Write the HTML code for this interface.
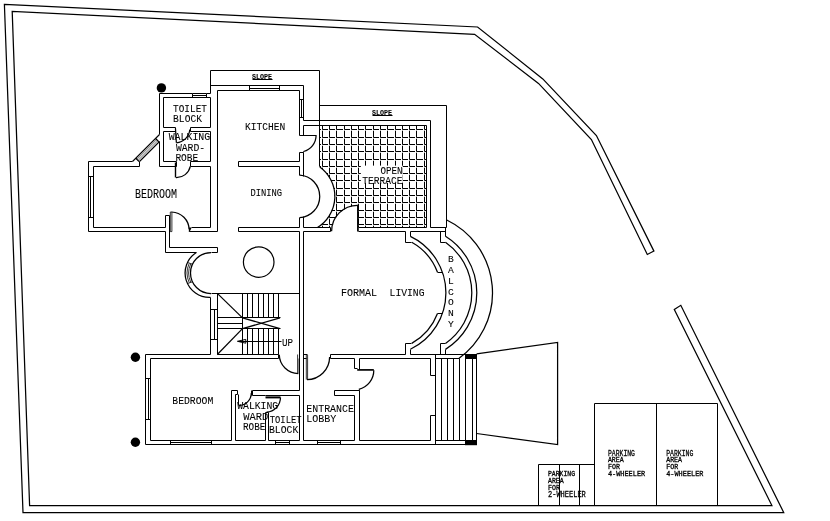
<!DOCTYPE html>
<html lang="en"><head><meta charset="utf-8"><title>First floor plan</title>
<style>
html,body{margin:0;padding:0;background:#fff;}
body{width:830px;height:521px;overflow:hidden;}
svg{display:block;will-change:transform;filter:grayscale(1);}
svg path,svg circle{fill:none;stroke:#000;stroke-width:1;}
#dots circle{fill:#000;stroke:none;}
svg path.d{stroke-width:1.25;}
#lower circle{stroke-width:1.2;}
svg text{font-family:"Liberation Mono",monospace;fill:#000;stroke:#000;stroke-width:0.08;}
.ts{font-weight:bold;}
.tp{stroke-width:0.3 !important;}
</style></head>
<body>
<svg width="830" height="521" viewBox="0 0 830 521">
<rect x="0" y="0" width="830" height="521" fill="#fff" stroke="none"/>
<g id="boundary">
<path d="M4.4 4.4 L477.6 27 L542.8 78.9 L596.4 135.5 L653.9 251.1 L647.3 254.5 L591.4 139.5 L538.5 83.4 L474.6 34.3 L12.2 11.3 L29.6 505.5 L771.9 505.5 L674.3 309.5 L680.8 305.3 L783.7 512.5 L23 512.5 Z" class="d"/>
</g>
<g id="parking">
<path d="M594.5 505.5 L594.5 403.5 L717.5 403.5 L717.5 505.5"/>
<path d="M656.5 403.5 L656.5 505.5"/>
<path d="M538.5 505.5 L538.5 464.5 L594.5 464.5"/>
<path d="M559.5 464.5 L559.5 505.5"/>
<path d="M579.5 464.5 L579.5 505.5"/>
</g>
<g id="ramp">
<path d="M476.6 353.9 L557.6 342.5 L557.6 444.5 L476.6 433.5" class="d"/>
<path d="M435.5 358.5 L435.5 440.5"/>
<path d="M441.5 358.5 L441.5 440.5"/>
<path d="M447.5 358.5 L447.5 440.5"/>
<path d="M453.5 358.5 L453.5 440.5"/>
<path d="M459.5 358.5 L459.5 440.5"/>
<path d="M465.5 358.5 L465.5 440.5"/>
<path d="M472.5 358.5 L472.5 440.5"/>
<path d="M476.5 358.5 L476.5 440.5"/>
<path d="M435.5 354.5 L435.5 444.5"/>
<path d="M476.5 358.5 L476.5 440.5"/>
<path d="M435.5 440.5 L465.5 440.5"/>
<rect x="465" y="354" width="12" height="5" fill="#000" stroke="none"/>
<rect x="465" y="440" width="12" height="5.2" fill="#000" stroke="none"/>
</g>
<g id="balcony">
<path class="d" d="M446.75 220.05 A80.8 80.8 0 0 1 459.08 358.3"/>
<path d="M445.5 227.5 L445.5 236.5"/>
<path class="d" d="M445.5 236.32 A66.7 66.7 0 0 1 445.5 349.38"/>
<path d="M445.5 349.5 L445.5 354.5"/>
<path d="M440.5 231.5 L440.5 242.5 L445.5 242.5"/>
<path class="d" d="M445.48 242.3 A61.7 61.7 0 0 1 445.48 343.4"/>
<path d="M445.5 343.5 L440.5 343.5 L440.5 354.5"/>
<path d="M410.5 231.5 L410.5 236.5"/>
<path class="d" d="M410.4 236.42 A62.6 62.6 0 0 1 410.4 349.28"/>
<path d="M410.5 349.5 L410.5 354.5"/>
<path d="M405.5 231.5 L405.5 242.5 L411.5 242.5"/>
<path class="d" d="M411.74 242.3 A58 58 0 0 1 437.5 272.2"/>
<path d="M437.5 272.5 L442.5 272.5"/>
<path d="M437.5 313.5 L442.5 313.5"/>
<path class="d" d="M437.5 313.5 A58 58 0 0 1 411.74 343.4"/>
<path d="M411.5 343.5 L405.5 343.5 L405.5 354.5"/>
</g>
<g id="terrace">
<path d="M210.5 93.5 L210.5 70.5 L319.5 70.5 L319.5 166.5"/>
<path d="M319.5 105.5 L446.5 105.5 L446.5 227.5 L430.5 227.5 L430.5 120.5 L303.5 120.5"/>
<path d="M303.5 125.5 L426.5 125.5"/>
<path d="M358.5 227.5 L426.5 227.5"/>
<path d="M358.5 231.5 L405.5 231.5"/>
<path d="M410.5 231.5 L445.5 231.5"/>
</g>
<defs><clipPath id="tc"><path d="M319.6 125.5 L426.5 125.5 L426.5 227.1 L358 227.1 L358 205.6 A25.9 25.9 0 0 0 332.5 227.1 L317.6 227.1 A36.4 36.4 0 0 0 319.6 166.9 Z"/></clipPath></defs>
<g id="tiles" clip-path="url(#tc)">
<path d="M314.5 116.7V122.5H321M322.5 116.7V122.5H328M329.5 116.7V122.5H335M336.5 116.7V122.5H343M344.5 116.7V122.5H350M351.5 116.7V122.5H357M358.5 116.7V122.5H364M365.5 116.7V122.5H372M373.5 116.7V122.5H379M380.5 116.7V122.5H386M387.5 116.7V122.5H394M395.5 116.7V122.5H401M402.5 116.7V122.5H408M409.5 116.7V122.5H415M416.5 116.7V122.5H423M424.5 116.7V122.5H430M314.5 123.7V129.5H321M322.5 123.7V129.5H328M329.5 123.7V129.5H335M336.5 123.7V129.5H343M344.5 123.7V129.5H350M351.5 123.7V129.5H357M358.5 123.7V129.5H364M365.5 123.7V129.5H372M373.5 123.7V129.5H379M380.5 123.7V129.5H386M387.5 123.7V129.5H394M395.5 123.7V129.5H401M402.5 123.7V129.5H408M409.5 123.7V129.5H415M416.5 123.7V129.5H423M424.5 123.7V129.5H430M314.5 130.7V137.5H321M322.5 130.7V137.5H328M329.5 130.7V137.5H335M336.5 130.7V137.5H343M344.5 130.7V137.5H350M351.5 130.7V137.5H357M358.5 130.7V137.5H364M365.5 130.7V137.5H372M373.5 130.7V137.5H379M380.5 130.7V137.5H386M387.5 130.7V137.5H394M395.5 130.7V137.5H401M402.5 130.7V137.5H408M409.5 130.7V137.5H415M416.5 130.7V137.5H423M424.5 130.7V137.5H430M314.5 138.7V144.5H321M322.5 138.7V144.5H328M329.5 138.7V144.5H335M336.5 138.7V144.5H343M344.5 138.7V144.5H350M351.5 138.7V144.5H357M358.5 138.7V144.5H364M365.5 138.7V144.5H372M373.5 138.7V144.5H379M380.5 138.7V144.5H386M387.5 138.7V144.5H394M395.5 138.7V144.5H401M402.5 138.7V144.5H408M409.5 138.7V144.5H415M416.5 138.7V144.5H423M424.5 138.7V144.5H430M314.5 145.7V151.5H321M322.5 145.7V151.5H328M329.5 145.7V151.5H335M336.5 145.7V151.5H343M344.5 145.7V151.5H350M351.5 145.7V151.5H357M358.5 145.7V151.5H364M365.5 145.7V151.5H372M373.5 145.7V151.5H379M380.5 145.7V151.5H386M387.5 145.7V151.5H394M395.5 145.7V151.5H401M402.5 145.7V151.5H408M409.5 145.7V151.5H415M416.5 145.7V151.5H423M424.5 145.7V151.5H430M314.5 152.7V159.5H321M322.5 152.7V159.5H328M329.5 152.7V159.5H335M336.5 152.7V159.5H343M344.5 152.7V159.5H350M351.5 152.7V159.5H357M358.5 152.7V159.5H364M365.5 152.7V159.5H372M373.5 152.7V159.5H379M380.5 152.7V159.5H386M387.5 152.7V159.5H394M395.5 152.7V159.5H401M402.5 152.7V159.5H408M409.5 152.7V159.5H415M416.5 152.7V159.5H423M424.5 152.7V159.5H430M314.5 160.7V166.5H321M322.5 160.7V166.5H328M329.5 160.7V166.5H335M336.5 160.7V166.5H343M344.5 160.7V166.5H350M351.5 160.7V166.5H357M358.5 160.7V166.5H364M365.5 160.7V166.5H372M373.5 160.7V166.5H379M380.5 160.7V166.5H386M387.5 160.7V166.5H394M395.5 160.7V166.5H401M402.5 160.7V166.5H408M409.5 160.7V166.5H415M416.5 160.7V166.5H423M424.5 160.7V166.5H430M314.5 167.7V173.5H321M322.5 167.7V173.5H328M329.5 167.7V173.5H335M336.5 167.7V173.5H343M344.5 167.7V173.5H350M351.5 167.7V173.5H357M358.5 167.7V173.5H364M365.5 167.7V173.5H372M373.5 167.7V173.5H379M380.5 167.7V173.5H386M387.5 167.7V173.5H394M395.5 167.7V173.5H401M402.5 167.7V173.5H408M409.5 167.7V173.5H415M416.5 167.7V173.5H423M424.5 167.7V173.5H430M314.5 174.7V180.5H321M322.5 174.7V180.5H328M329.5 174.7V180.5H335M336.5 174.7V180.5H343M344.5 174.7V180.5H350M351.5 174.7V180.5H357M358.5 174.7V180.5H364M365.5 174.7V180.5H372M373.5 174.7V180.5H379M380.5 174.7V180.5H386M387.5 174.7V180.5H394M395.5 174.7V180.5H401M402.5 174.7V180.5H408M409.5 174.7V180.5H415M416.5 174.7V180.5H423M424.5 174.7V180.5H430M314.5 181.7V188.5H321M322.5 181.7V188.5H328M329.5 181.7V188.5H335M336.5 181.7V188.5H343M344.5 181.7V188.5H350M351.5 181.7V188.5H357M358.5 181.7V188.5H364M365.5 181.7V188.5H372M373.5 181.7V188.5H379M380.5 181.7V188.5H386M387.5 181.7V188.5H394M395.5 181.7V188.5H401M402.5 181.7V188.5H408M409.5 181.7V188.5H415M416.5 181.7V188.5H423M424.5 181.7V188.5H430M314.5 189.7V195.5H321M322.5 189.7V195.5H328M329.5 189.7V195.5H335M336.5 189.7V195.5H343M344.5 189.7V195.5H350M351.5 189.7V195.5H357M358.5 189.7V195.5H364M365.5 189.7V195.5H372M373.5 189.7V195.5H379M380.5 189.7V195.5H386M387.5 189.7V195.5H394M395.5 189.7V195.5H401M402.5 189.7V195.5H408M409.5 189.7V195.5H415M416.5 189.7V195.5H423M424.5 189.7V195.5H430M314.5 196.7V202.5H321M322.5 196.7V202.5H328M329.5 196.7V202.5H335M336.5 196.7V202.5H343M344.5 196.7V202.5H350M351.5 196.7V202.5H357M358.5 196.7V202.5H364M365.5 196.7V202.5H372M373.5 196.7V202.5H379M380.5 196.7V202.5H386M387.5 196.7V202.5H394M395.5 196.7V202.5H401M402.5 196.7V202.5H408M409.5 196.7V202.5H415M416.5 196.7V202.5H423M424.5 196.7V202.5H430M314.5 203.7V210.5H321M322.5 203.7V210.5H328M329.5 203.7V210.5H335M336.5 203.7V210.5H343M344.5 203.7V210.5H350M351.5 203.7V210.5H357M358.5 203.7V210.5H364M365.5 203.7V210.5H372M373.5 203.7V210.5H379M380.5 203.7V210.5H386M387.5 203.7V210.5H394M395.5 203.7V210.5H401M402.5 203.7V210.5H408M409.5 203.7V210.5H415M416.5 203.7V210.5H423M424.5 203.7V210.5H430M314.5 211.7V217.5H321M322.5 211.7V217.5H328M329.5 211.7V217.5H335M336.5 211.7V217.5H343M344.5 211.7V217.5H350M351.5 211.7V217.5H357M358.5 211.7V217.5H364M365.5 211.7V217.5H372M373.5 211.7V217.5H379M380.5 211.7V217.5H386M387.5 211.7V217.5H394M395.5 211.7V217.5H401M402.5 211.7V217.5H408M409.5 211.7V217.5H415M416.5 211.7V217.5H423M424.5 211.7V217.5H430M314.5 218.7V224.5H321M322.5 218.7V224.5H328M329.5 218.7V224.5H335M336.5 218.7V224.5H343M344.5 218.7V224.5H350M351.5 218.7V224.5H357M358.5 218.7V224.5H364M365.5 218.7V224.5H372M373.5 218.7V224.5H379M380.5 218.7V224.5H386M387.5 218.7V224.5H394M395.5 218.7V224.5H401M402.5 218.7V224.5H408M409.5 218.7V224.5H415M416.5 218.7V224.5H423M424.5 218.7V224.5H430M314.5 225.7V231.5H321M322.5 225.7V231.5H328M329.5 225.7V231.5H335M336.5 225.7V231.5H343M344.5 225.7V231.5H350M351.5 225.7V231.5H357M358.5 225.7V231.5H364M365.5 225.7V231.5H372M373.5 225.7V231.5H379M380.5 225.7V231.5H386M387.5 225.7V231.5H394M395.5 225.7V231.5H401M402.5 225.7V231.5H408M409.5 225.7V231.5H415M416.5 225.7V231.5H423M424.5 225.7V231.5H430"/>
</g>
<g id="tileedge">
<path d="M426.5 125.5 L426.5 227.5"/>
<rect x="360.8" y="165.6" width="41.9" height="17.3" fill="#fff" stroke="none"/>
</g>
<g id="walls">
<path d="M159.5 134.5 L159.5 93.5 L192.5 93.5"/>
<path d="M206.5 93.5 L210.5 93.5"/>
<path d="M192.5 93.5 L206.5 93.5"/>
<path d="M192.5 95.5 L206.5 95.5"/>
<path d="M192.5 97.5 L206.5 97.5"/>
<path d="M192.5 93.5 L192.5 97.5"/>
<path d="M206.5 93.5 L206.5 97.5"/>
<path d="M159.5 141.5 L159.5 166.5 L176.5 166.5"/>
<path d="M175.5 127.5 L163.5 127.5 L163.5 97.5 L210.5 97.5"/>
<path d="M190.5 127.5 L210.5 127.5"/>
<path d="M175.5 131.5 L163.5 131.5 L163.5 161.5 L176.5 161.5 L176.5 166.5"/>
<path d="M190.5 131.5 L210.5 131.5"/>
<path d="M190.5 166.5 L190.5 161.5 L210.5 161.5"/>
<path d="M175.5 127.5 L175.5 131.5"/>
<path d="M190.5 127.5 L190.5 131.5"/>
<path d="M190.5 166.5 L210.5 166.5"/>
<path d="M210.5 97.5 L210.5 127.5"/>
<path d="M210.5 131.5 L210.5 161.5"/>
<path d="M210.5 166.5 L210.5 227.5"/>
<path d="M217.5 231.5 L217.5 90.5 L299.5 90.5"/>
<path d="M210.5 85.5 L303.5 85.5 L303.5 120.5"/>
<path d="M303.5 125.5 L303.5 135.5"/>
<path d="M249.5 88.5 L279.5 88.5"/>
<path d="M249.5 85.5 L249.5 90.5"/>
<path d="M279.5 85.5 L279.5 90.5"/>
<path d="M299.5 90.5 L299.5 135.5"/>
<path d="M301.5 99.5 L301.5 117.5"/>
<path d="M299.5 99.5 L303.5 99.5"/>
<path d="M299.5 117.5 L303.5 117.5"/>
<path d="M299.5 135.5 L316.5 135.5"/>
<path class="d" d="M316.1 135.6 A16.6 16.6 0 0 1 303.6 151.5"/>
<path d="M303.5 151.5 L303.5 152.5 L299.5 152.5"/>
<path d="M299.5 152.5 L299.5 161.5 L238.5 161.5 L238.5 166.5 L299.5 166.5 L299.5 175.5"/>
<path d="M303.5 152.5 L303.5 176.5"/>
<path class="d" d="M299.7 175.1 A21.34 21.34 0 0 1 299.7 217.7"/>
<path class="d" d="M319.8 166.9 A36.4 36.4 0 0 1 317.4 227.5"/>
<path d="M299.5 217.5 L299.5 227.5"/>
<path d="M303.5 216.5 L303.5 227.5"/>
<path d="M299.5 227.5 L238.5 227.5 L238.5 231.5 L299.5 231.5"/>
<path d="M303.5 227.5 L330.5 227.5"/>
<path d="M303.5 231.5 L330.5 231.5"/>
<path d="M357.9 204.8 L357.9 231.5" style="stroke-width:1.7"/>
<path class="d" d="M357.5 205.3 A25.9 25.9 0 0 0 331.6 231.2"/>
<path d="M330.5 227.5 L330.5 231.5"/>
<path d="M299.5 231.5 L299.5 390.5"/>
<path d="M299.5 395.5 L299.5 440.5"/>
<path d="M303.5 231.5 L303.5 440.5"/>
<path d="M132.5 161.5 L88.5 161.5 L88.5 231.5 L165.5 231.5 L165.5 252.5 L196.5 252.5"/>
<path d="M139.5 161.5 L139.5 166.5 L93.5 166.5 L93.5 227.5 L165.5 227.5 L165.5 215.5 L169.5 215.5 L169.5 247.5 L217.5 247.5 L217.5 252.5 L211.5 252.5"/>
<path d="M90.5 176.5 L90.5 217.5"/>
<path d="M88.5 176.5 L93.5 176.5"/>
<path d="M88.5 217.5 L93.5 217.5"/>
<path d="M132.5 161.5 L159.5 134.5" style="stroke-width:1.1"/>
<path d="M139.5 161.5 L159.5 141.5" style="stroke-width:1.1"/>
<path d="M136.95 159.35 L156.7 139.6" style="stroke-width:.6"/>
<path d="M138.05 160.45 L157.8 140.7" style="stroke-width:.6"/>
<path d="M135.8 158.2 L139.2 161.6" class="d"/>
<path d="M155.55 138.45 L158.95 141.85" class="d"/>
<path d="M175.5 162.5 L175.5 177.5" style="stroke-width:1.4"/>
<path class="d" d="M176 177.7 A14.3 14.3 0 0 0 190.3 166.4"/>
<path d="M175.5 128.5 L176.4 142.8" class="d"/>
<path class="d" d="M176.4 142.8 A14.4 14.4 0 0 0 189.8 129.5"/>
<path d="M170.3 212 L170.3 231.6 L171.9 231.6 L171.9 212 L170.3 212" style="stroke-width:.8"/>
<path class="d" d="M171.7 212 A17.9 17.9 0 0 1 189.1 229.6"/>
<path d="M189.5 231.5 L189.5 227.5"/>
<path d="M191.5 227.5 L210.5 227.5"/>
<path d="M191 227.4 L189.1 231.6" class="d"/>
<path d="M189.5 231.5 L217.5 231.5"/>
<path class="d" d="M211 252.5 A20.5 20.5 0 0 0 211 293.5"/>
<path class="d" d="M196.3 252.5 A24.4 24.4 0 0 0 210.5 297.4"/>
<path class="d" d="M189.17 282.54 A23 23 0 0 1 189.17 263.46" style="stroke-width:.8"/>
<path class="d" d="M190.66 282.04 A21.8 21.8 0 0 1 190.66 263.96" style="stroke-width:.8"/>
<path d="M192.5 281.83 L187.58 283.5" style="stroke-width:.8"/>
<path d="M192.5 264.17 L187.58 262.5" style="stroke-width:.8"/>
<path d="M211.5 293.5 L299.5 293.5"/>
<path d="M210.5 297.5 L210.5 354.5"/>
<path d="M217.5 293.5 L217.5 354.5"/>
<path d="M214.5 309.5 L214.5 339.5"/>
<path d="M210.5 309.5 L217.5 309.5"/>
<path d="M210.5 339.5 L217.5 339.5"/>
</g>
<g id="stairs">
<path d="M242.5 293.5 L242.5 317.5"/>
<path d="M242.5 328.5 L242.5 354.5"/>
<path d="M247.5 293.5 L247.5 317.5"/>
<path d="M247.5 328.5 L247.5 354.5"/>
<path d="M252.5 293.5 L252.5 317.5"/>
<path d="M252.5 328.5 L252.5 354.5"/>
<path d="M258.5 293.5 L258.5 317.5"/>
<path d="M258.5 328.5 L258.5 354.5"/>
<path d="M263.5 293.5 L263.5 317.5"/>
<path d="M263.5 328.5 L263.5 354.5"/>
<path d="M268.5 293.5 L268.5 317.5"/>
<path d="M268.5 328.5 L268.5 354.5"/>
<path d="M273.5 293.5 L273.5 317.5"/>
<path d="M273.5 328.5 L273.5 354.5"/>
<path d="M278.5 293.5 L278.5 317.5"/>
<path d="M278.5 328.5 L278.5 354.5"/>
<path d="M217.3 293.4 L242.5 317.9" class="d"/>
<path d="M242.5 328.6 L217.3 354.5" class="d"/>
<path d="M217.5 317.5 L280.5 317.5"/>
<path d="M217.5 323.5 L242.5 323.5"/>
<path d="M217.5 328.5 L280.5 328.5"/>
<path d="M242.5 317.5 L242.5 328.5"/>
<path d="M242.5 317.9 L280 328.6" class="d"/>
<path d="M242.5 328.6 L280 317.9" class="d"/>
<path d="M238.5 341.5 L281.5 341.5"/>
<path d="M237.4 341.3 L245.8 339.4 L245.8 343.2 Z" fill="#000" stroke="none"/>
</g>
<g id="lower">
<path d="M210.5 354.5 L145.5 354.5 L145.5 444.5 L465.5 444.5"/>
<path d="M278.5 354.5 L217.5 354.5"/>
<path d="M278.5 354.5 L278.5 358.5 L150.5 358.5 L150.5 440.5 L231.5 440.5 L231.5 390.5 L237.5 390.5"/>
<path d="M148.5 378.5 L148.5 419.5"/>
<path d="M145.5 378.5 L150.5 378.5"/>
<path d="M145.5 419.5 L150.5 419.5"/>
<path d="M170.5 442.5 L211.5 442.5"/>
<path d="M170.5 440.5 L170.5 444.5"/>
<path d="M211.5 440.5 L211.5 444.5"/>
<path d="M297.6 354.5 L297.6 373.5" style="stroke-width:.8"/>
<path d="M299 358.5 L299 373.5" style="stroke-width:.8"/>
<path class="d" d="M298.3 373.5 A19 19 0 0 1 279.3 354.8"/>
<path d="M299.5 390.5 L252.5 390.5 L252.5 395.5"/>
<path d="M252.5 395.5 L265.5 395.5"/>
<path d="M235.5 440.5 L235.5 394.5 L237.5 394.5 L237.5 390.5"/>
<path d="M238.5 394.5 L238.5 405.5"/>
<path class="d" d="M238.8 405.5 A12.5 12.5 0 0 0 251.3 393"/>
<path d="M251.5 390.5 L251.5 395.5"/>
<path d="M265.5 440.5 L265.5 412.5 L268.5 412.5 L268.5 440.5"/>
<path d="M235.5 440.5 L265.5 440.5"/>
<path d="M265.5 395.5 L299.5 395.5"/>
<path d="M268.5 440.5 L299.5 440.5"/>
<path d="M265.5 397.4 L280.5 397.4" style="stroke-width:2"/>
<path class="d" d="M280.5 397.6 A14.8 14.8 0 0 1 266.6 412.2"/>
<path d="M275.5 442.5 L289.5 442.5"/>
<path d="M275.5 440.5 L275.5 444.5"/>
<path d="M289.5 440.5 L289.5 444.5"/>
<path d="M303.5 440.5 L354.5 440.5 L354.5 395.5 L334.5 395.5 L334.5 390.5 L359.5 390.5 L359.5 440.5 L430.5 440.5 L430.5 415.5 L435.5 415.5"/>
<path d="M435.5 375.5 L430.5 375.5 L430.5 358.5 L359.5 358.5 L359.5 369.5"/>
<path d="M330.5 358.5 L354.5 358.5 L354.5 368.5 L357.5 368.5"/>
<path d="M357.2 369.9 L373.8 369.9" style="stroke-width:1.7"/>
<path class="d" d="M373.8 370.3 A19.4 19.4 0 0 1 358.8 389.3"/>
<path d="M359.5 389.5 L359.5 390.5"/>
<path d="M317.5 442.5 L340.5 442.5"/>
<path d="M317.5 440.5 L317.5 444.5"/>
<path d="M340.5 440.5 L340.5 444.5"/>
<path d="M306.3 355 L306.3 379.6" style="stroke-width:.8"/>
<path d="M307.6 355 L307.6 379.6" style="stroke-width:.8"/>
<path class="d" d="M307 379.6 A22.6 22.6 0 0 0 329.6 357"/>
<path d="M330.5 354.5 L330.5 358.5"/>
<path d="M303.5 354.5 L307.5 354.5"/>
<path d="M303.5 358.5 L306.5 358.5"/>
<path d="M330.5 354.5 L405.5 354.5"/>
<path d="M410.5 354.5 L465.5 354.5"/>
<path d="M435.5 358.5 L459.5 358.5"/>
<circle cx="258.7" cy="262.1" r="15.3"/>
</g>
<g id="dots" fill="#000" stroke="none">
<circle cx="161.4" cy="87.9" r="4.7"/><circle cx="135.4" cy="357.2" r="4.7"/><circle cx="135.4" cy="442.3" r="4.7"/>
</g>
<g id="text" class="tx" opacity="0.999">
<text x="173.1" y="111.9" font-size="10.69" textLength="33.8" lengthAdjust="spacingAndGlyphs" class="t">TOILET</text>
<text x="173.1" y="121.9" font-size="10.23" textLength="28.9" lengthAdjust="spacingAndGlyphs" class="t">BLOCK</text>
<text x="168.7" y="140" font-size="10.53" textLength="41.5" lengthAdjust="spacingAndGlyphs" class="t">WALKING</text>
<text x="175.9" y="150.5" font-size="10.53" textLength="29.2" lengthAdjust="spacingAndGlyphs" class="t">WARD-</text>
<text x="175.4" y="160.8" font-size="10.23" textLength="22.8" lengthAdjust="spacingAndGlyphs" class="t">ROBE</text>
<text x="245" y="130.2" font-size="10.99" textLength="40.3" lengthAdjust="spacingAndGlyphs" class="t">KITCHEN</text>
<text x="250.4" y="196" font-size="10.99" textLength="31.6" lengthAdjust="spacingAndGlyphs" class="t">DINING</text>
<text x="135.1" y="198.1" font-size="12.06" textLength="42" lengthAdjust="spacingAndGlyphs" class="t">BEDROOM</text>
<text x="252" y="79.3" font-size="6.56" textLength="20" lengthAdjust="spacingAndGlyphs" class="ts">SLOPE</text>
<path d="M252.5 79.5 L272.5 79.5"/>
<text x="372" y="115.4" font-size="6.72" textLength="20" lengthAdjust="spacingAndGlyphs" class="ts">SLOPE</text>
<path d="M372.5 115.5 L392.5 115.5"/>
<text x="380.6" y="173.6" font-size="11.3" textLength="22" lengthAdjust="spacingAndGlyphs" class="t">OPEN</text>
<text x="362.3" y="184.1" font-size="10.84" textLength="40.3" lengthAdjust="spacingAndGlyphs" class="t">TERRACE</text>
<text x="341" y="296" font-size="10.69" textLength="36" lengthAdjust="spacingAndGlyphs" class="t">FORMAL</text>
<text x="389.6" y="296" font-size="10.69" textLength="34.9" lengthAdjust="spacingAndGlyphs" class="t">LIVING</text>
<text x="447.9" y="262.4" font-size="9.62" textLength="5.8" lengthAdjust="spacingAndGlyphs" class="t">B</text>
<text x="447.9" y="273.2" font-size="9.62" textLength="5.8" lengthAdjust="spacingAndGlyphs" class="t">A</text>
<text x="447.9" y="283.7" font-size="9.62" textLength="5.8" lengthAdjust="spacingAndGlyphs" class="t">L</text>
<text x="447.9" y="294.5" font-size="9.62" textLength="5.8" lengthAdjust="spacingAndGlyphs" class="t">C</text>
<text x="447.9" y="305.4" font-size="9.62" textLength="5.8" lengthAdjust="spacingAndGlyphs" class="t">O</text>
<text x="447.9" y="316.1" font-size="9.62" textLength="5.8" lengthAdjust="spacingAndGlyphs" class="t">N</text>
<text x="447.9" y="327.1" font-size="9.62" textLength="5.8" lengthAdjust="spacingAndGlyphs" class="t">Y</text>
<text x="282" y="345.9" font-size="10.53" textLength="11" lengthAdjust="spacingAndGlyphs" class="t">UP</text>
<text x="172.3" y="404.1" font-size="10.38" textLength="41" lengthAdjust="spacingAndGlyphs" class="t">BEDROOM</text>
<text x="237.2" y="408.6" font-size="10.38" textLength="41" lengthAdjust="spacingAndGlyphs" class="t">WALKING</text>
<text x="243.3" y="419.5" font-size="10.38" textLength="25" lengthAdjust="spacingAndGlyphs" class="t">WARD</text>
<text x="243" y="429.5" font-size="10.23" textLength="22.3" lengthAdjust="spacingAndGlyphs" class="t">ROBE</text>
<text x="269.8" y="422.8" font-size="10.38" textLength="31.7" lengthAdjust="spacingAndGlyphs" class="t">TOILET</text>
<text x="268.9" y="433.3" font-size="10.53" textLength="29.4" lengthAdjust="spacingAndGlyphs" class="t">BLOCK</text>
<text x="306.3" y="412.4" font-size="10.23" textLength="47.6" lengthAdjust="spacingAndGlyphs" class="t">ENTRANCE</text>
<text x="306.3" y="422.2" font-size="10.69" textLength="30.1" lengthAdjust="spacingAndGlyphs" class="t">LOBBY</text>
<text x="607.9" y="456.1" font-size="9.47" textLength="27.1" lengthAdjust="spacingAndGlyphs" class="tp">PARKING</text>
<text x="607.9" y="461.9" font-size="7.18" textLength="15.8" lengthAdjust="spacingAndGlyphs" class="tp">AREA</text>
<text x="607.9" y="468.8" font-size="6.87" textLength="12" lengthAdjust="spacingAndGlyphs" class="tp">FOR</text>
<text x="607.9" y="475.9" font-size="7.33" textLength="37.3" lengthAdjust="spacingAndGlyphs" class="tp">4-WHEELER</text>
<text x="666.2" y="456.1" font-size="9.47" textLength="27.1" lengthAdjust="spacingAndGlyphs" class="tp">PARKING</text>
<text x="666.2" y="461.9" font-size="7.18" textLength="15.8" lengthAdjust="spacingAndGlyphs" class="tp">AREA</text>
<text x="666.2" y="468.8" font-size="6.87" textLength="12" lengthAdjust="spacingAndGlyphs" class="tp">FOR</text>
<text x="666.2" y="475.9" font-size="7.33" textLength="37.3" lengthAdjust="spacingAndGlyphs" class="tp">4-WHEELER</text>
<text x="548" y="475.6" font-size="6.87" textLength="27" lengthAdjust="spacingAndGlyphs" class="tp">PARKING</text>
<text x="548" y="482.7" font-size="7.02" textLength="15.7" lengthAdjust="spacingAndGlyphs" class="tp">AREA</text>
<text x="548" y="489.5" font-size="7.02" textLength="11.9" lengthAdjust="spacingAndGlyphs" class="tp">FOR</text>
<text x="548" y="496.8" font-size="8.85" textLength="37.8" lengthAdjust="spacingAndGlyphs" class="tp">2-WHEELER</text>
</g>
</svg>
</body></html>
